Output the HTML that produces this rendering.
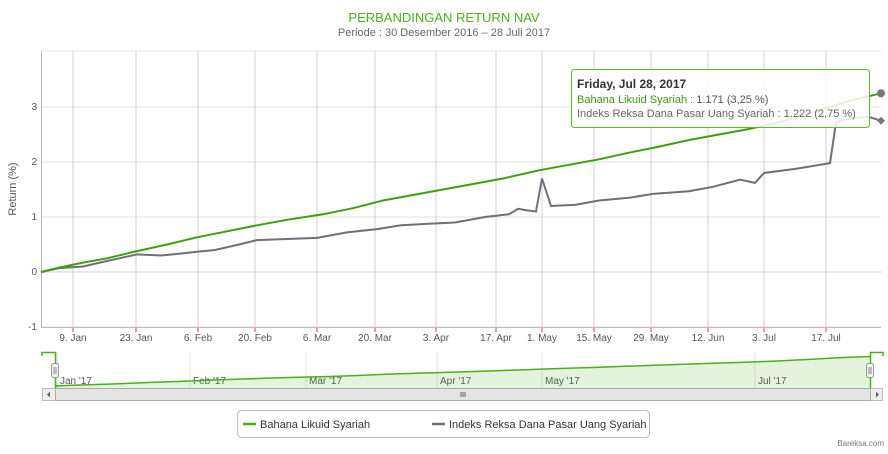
<!DOCTYPE html>
<html><head><meta charset="utf-8">
<style>
body{margin:0;background:#fff;font-family:"Liberation Sans",sans-serif;}
svg text{font-family:"Liberation Sans",sans-serif;}
</style></head>
<body>
<svg id="c" width="888" height="449" xmlns="http://www.w3.org/2000/svg">
<text x="444" y="22" text-anchor="middle" font-size="13" fill="#4caf1a">PERBANDINGAN RETURN NAV</text>
<text x="444" y="36" text-anchor="middle" font-size="11" fill="#666">Periode : 30 Desember 2016 – 28 Juli 2017</text>
<g id="grid"></g>
<g id="series"></g>
<g id="nav"></g>
<g>
<rect x="571.5" y="69.5" width="298" height="58" rx="3" fill="rgba(255,255,255,0.85)" stroke="#5cb82a"/>
<text x="577" y="88" font-size="12" font-weight="bold" fill="#333">Friday, Jul 28, 2017</text>
<text x="577" y="103" font-size="11" fill="#3a9a10">Bahana Likuid Syariah : <tspan fill="#555">1.171 (3,25 %)</tspan></text>
<text x="577" y="117" font-size="11" fill="#666">Indeks Reksa Dana Pasar Uang Syariah : 1.222 (2,75 %)</text>
</g>
<g>
<rect x="237.5" y="410.5" width="412" height="27" rx="4" fill="#fff" stroke="#bbb"/>
<line x1="243" y1="424" x2="256" y2="424" stroke="#4caf1a" stroke-width="2.5"/>
<text x="260" y="428" font-size="11" fill="#333">Bahana Likuid Syariah</text>
<line x1="432" y1="424" x2="445" y2="424" stroke="#6f6f7a" stroke-width="2.5"/>
<text x="449" y="428" font-size="11" fill="#333">Indeks Reksa Dana Pasar Uang Syariah</text>
</g>
<text x="884" y="446" text-anchor="end" font-size="8" fill="#777">Bareksa.com</text>
</svg>
<script>
const greenIdx=[0,3,7,11,16,21,26,31,36,41,47,52,57,62,67,72,77,83,88,93,98,103,108,113,118,124,130,135,140];
const greenVal=[0,0.08,0.17,0.25,0.38,0.5,0.63,0.74,0.85,0.95,1.05,1.16,1.3,1.4,1.5,1.6,1.7,1.85,1.95,2.05,2.17,2.28,2.4,2.5,2.6,2.75,2.95,3.12,3.25];
const grayIdx=[0,3,7,11,16,20,23,26,29,33,36,41,46,51,56,60,65,69,74,78,79.5,81,82.5,83.5,85,87,89,93,98,102,108,112,116.5,119,120.5,126,131.5,132.5,135,138,140];
const grayVal=[0,0.07,0.1,0.2,0.32,0.3,0.33,0.37,0.4,0.5,0.58,0.6,0.62,0.72,0.78,0.85,0.88,0.9,1.0,1.05,1.15,1.12,1.1,1.7,1.2,1.21,1.22,1.3,1.35,1.42,1.47,1.55,1.68,1.62,1.8,1.88,1.98,2.72,2.8,2.82,2.75];
const yTicks=[-1,0,1,2,3];
const xLabels=["9. Jan","23. Jan","6. Feb","20. Feb","6. Mar","20. Mar","3. Apr","17. Apr","1. May","15. May","29. May","12. Jun","3. Jul","17. Jul"];
const xLabelPx=[73,136,198,255,317,375,436,496,542,594,651,708,764,826];
const navLabels=["Jan '17","Feb '17","Mar '17","Apr '17","May '17","Jul '17"];
const navLabelPx=[57,190,306,437,542,755];
const NS="http://www.w3.org/2000/svg";
function mk(p,t,a){const e=document.createElementNS(NS,t);for(const k in a)e.setAttribute(k,a[k]);p.appendChild(e);return e;}
const X0=41,X1=881,Y0=51,Y1=327;
const xs=i=>X0+i*(X1-X0)/140;
const ys=v=>272-v*55;
const g=document.getElementById('grid');
yTicks.forEach(t=>{
 const l=mk(g,'line',{x1:X0,x2:X1,y1:ys(t),y2:ys(t),stroke:t===0?'#e8e8e8':'#e2e2e2','stroke-width':t===0?2:1});
 
 
 const tx=mk(g,'text',{x:37,y:ys(t)+3,'text-anchor':'end','font-size':10,fill:'#555'});tx.textContent=t;
 
 
});
mk(g,'line',{x1:X0,x2:X1,y1:Y0,y2:Y0,stroke:'#e6e6e6'});
xLabels.forEach((s,i)=>{
 const x=xLabelPx[i];
 const l=mk(g,'line',{x1:x,x2:x,y1:Y0,y2:Y1,stroke:'#d0d0d0'});
 
 
 mk(g,'line',{x1:x,x2:x,y1:Y1,y2:Y1+5,stroke:'#e33'});
 const tx=mk(g,'text',{x:x,y:341,'text-anchor':'middle','font-size':10,fill:'#555'});tx.textContent=s;
 
 
});
mk(g,'line',{x1:X0+0.5,x2:X0+0.5,y1:Y0,y2:Y1,stroke:'#bbb'});
mk(g,'line',{x1:X0,x2:X1,y1:Y1+0.5,y2:Y1+0.5,stroke:'#bbb'});
const yt=mk(g,'text',{x:16,y:189,'text-anchor':'middle','font-size':11,fill:'#555',transform:'rotate(-90 16 189)'});yt.textContent='Return (%)';


const s=document.getElementById('series');
function path(idx,val,fx,fy){return idx.map((d,i)=>(i?'L':'M')+fx(d).toFixed(1)+','+fy(val[i]).toFixed(1)).join('');}
const pg=mk(s,'path',{d:path(grayIdx,grayVal,xs,ys),fill:'none',stroke:'#6f6f7a','stroke-width':2});


const pb=mk(s,'path',{d:path(greenIdx,greenVal,xs,ys),fill:'none',stroke:'#3aa10e','stroke-width':2});


const gl=greenIdx.length-1, rl=grayIdx.length-1;
const m1=mk(s,'circle',{cx:xs(greenIdx[gl]),cy:ys(greenVal[gl]),r:4,fill:'#777'});


const gx=xs(grayIdx[rl]),gy=ys(grayVal[rl]);
const m2=mk(s,'path',{d:`M${gx},${gy-4}L${gx+4},${gy}L${gx},${gy+4}L${gx-4},${gy}Z`,fill:'#777'});


const n=document.getElementById('nav');
const NX0=55,NX1=870,NY0=352,NY1=388;
const nxs=i=>NX0+i*(NX1-NX0)/140;
const nys=v=>NY1-2-v*(NY1-NY0-6)/3.3;
navLabels.forEach((t,i)=>{
 const x=navLabelPx[i];
 mk(n,'line',{x1:x,x2:x,y1:NY0,y2:NY1,stroke:'#e0e0e0'});
 const tx=mk(n,'text',{x:x+3,y:384,'font-size':10,fill:'#555'});tx.textContent=t;
 
 
});
const ad=path(greenIdx,greenVal,nxs,nys)+`L${NX1},${NY1}L${NX0},${NY1}Z`;
const na=mk(n,'path',{d:ad,fill:'rgba(76,175,26,0.15)',stroke:'none'});


mk(n,'path',{d:path(greenIdx,greenVal,nxs,nys),fill:'none',stroke:'#4caf1a','stroke-width':1.5});
mk(n,'path',{d:`M42,356V352.5H55.5V388M870.5,388V352.5H883V356`,fill:'none',stroke:'#4caf1a','stroke-width':1.5});
[55,870].forEach(x=>{const h=mk(n,'rect',{x:x-3.5,y:363.5,width:7,height:14,rx:2,fill:'#f2f2f2',stroke:'#999'});
 
 
 mk(n,'line',{x1:x-1,x2:x-1,y1:367,y2:374,stroke:'#888'});mk(n,'line',{x1:x+1,x2:x+1,y1:367,y2:374,stroke:'#888'});});
const sb=mk(n,'rect',{x:42.5,y:388.5,width:840,height:12,fill:'#eee',stroke:'#bbb'});


const th=mk(n,'rect',{x:55.5,y:388.5,width:815,height:12,fill:'#e4e4e4',stroke:'#aaa'});


[461,463,465].forEach(x=>mk(n,'line',{x1:x,x2:x,y1:392,y2:397,stroke:'#666'}));
mk(n,'path',{d:'M50,391.5L47,394.5L50,397.5Z',fill:'#666'});
mk(n,'path',{d:'M876,391.5L879,394.5L876,397.5Z',fill:'#666'});
</script>
</body></html>
